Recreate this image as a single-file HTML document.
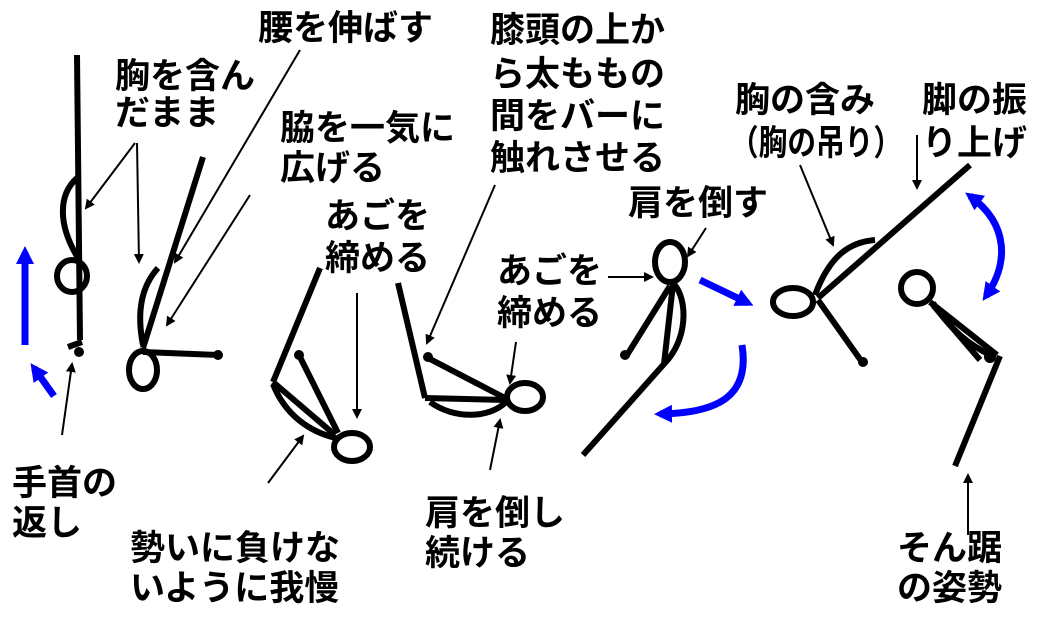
<!DOCTYPE html>
<html><head><meta charset="utf-8"><style>
html,body{margin:0;padding:0;background:#fff;}
svg{display:block;}
text{font-family:"Liberation Sans","Noto Sans CJK JP",sans-serif;font-weight:bold;font-size:35px;fill:#000;}
</style></head><body>
<svg width="1044" height="618" viewBox="0 0 1044 618" xmlns="http://www.w3.org/2000/svg">
<defs>
<marker id="ab" markerWidth="10" markerHeight="10" refX="8" refY="5" orient="auto" markerUnits="userSpaceOnUse"><path d="M0,0 L10,5 L0,10 z" fill="#000"/></marker>
<marker id="bl" markerWidth="18" markerHeight="18" refX="12" refY="9" orient="auto" markerUnits="userSpaceOnUse"><path d="M0,0 L18,9 L0,18 z" fill="#00f"/></marker>
<marker id="bls" markerWidth="18" markerHeight="18" refX="6" refY="9" orient="auto" markerUnits="userSpaceOnUse"><path d="M18,0 L0,9 L18,18 z" fill="#00f"/></marker>
</defs>
<g stroke="#000" stroke-width="6" fill="none" stroke-linecap="butt">
<!-- figure 1 -->
<line x1="77" y1="55" x2="80" y2="340"/>
<path d="M77,178 C58,195 58,225 78,258"/>
<ellipse cx="72" cy="276" rx="15" ry="16"/>
<line x1="68" y1="347" x2="82" y2="342"/>
<!-- figure 2 -->
<line x1="203" y1="157" x2="143" y2="348"/>
<path d="M158,268 C138,290 138,320 143,345"/>
<ellipse cx="143" cy="370" rx="14" ry="19"/>
<line x1="143" y1="352" x2="218" y2="355"/>
<!-- figure 3 -->
<line x1="320" y1="268" x2="273" y2="382"/>
<line x1="299" y1="355" x2="338" y2="433"/>
<line x1="273" y1="382" x2="335" y2="435"/>
<path d="M273,384 C285,415 310,432 336,438"/>
<ellipse cx="352" cy="447" rx="18" ry="14"/>
<!-- figure 4 -->
<line x1="398" y1="283" x2="425" y2="398"/>
<line x1="428" y1="358" x2="505" y2="398"/>
<line x1="425" y1="398" x2="506" y2="400"/>
<path d="M430,402 C455,420 490,418 506,402"/>
<ellipse cx="525" cy="397" rx="18" ry="14"/>
<!-- figure 5 -->
<ellipse cx="670" cy="262" rx="15" ry="20"/>
<line x1="583" y1="455" x2="664" y2="364"/>
<line x1="664" y1="364" x2="673" y2="284"/>
<line x1="627" y1="355" x2="670" y2="286"/>
<path d="M674,284 C688,300 688,340 664,364"/>
<!-- figure 6 -->
<line x1="970" y1="165" x2="818" y2="298"/>
<path d="M815,295 C830,255 850,242 875,240"/>
<ellipse cx="793" cy="302" rx="20" ry="14"/>
<line x1="818" y1="300" x2="862" y2="362"/>
<!-- figure 7 -->
<ellipse cx="917" cy="288" rx="16" ry="16"/>
<line x1="930" y1="302" x2="997" y2="355"/>
<line x1="933" y1="305" x2="980" y2="360"/>
<path d="M933,303 C950,330 970,345 990,355"/>
<line x1="1000" y1="356" x2="955" y2="466"/>
</g>
<g fill="#000">
<circle cx="79" cy="352" r="5"/>
<circle cx="218" cy="355" r="5"/>
<circle cx="299" cy="355" r="5"/>
<circle cx="428" cy="357" r="5"/>
<circle cx="625" cy="355" r="5"/>
<circle cx="863" cy="362" r="5"/>
<circle cx="990" cy="357" r="6"/>
</g>
<g stroke="#000" stroke-width="2" fill="none" marker-end="url(#ab)">
<line x1="135" y1="143" x2="86" y2="208"/>
<line x1="137" y1="143" x2="139" y2="262"/>
<line x1="62" y1="435" x2="72" y2="364"/>
<line x1="300" y1="50" x2="175" y2="262"/>
<line x1="250" y1="195" x2="167" y2="325"/>
<line x1="357" y1="293" x2="357" y2="417"/>
<line x1="268" y1="483" x2="303" y2="436"/>
<line x1="495" y1="185" x2="427" y2="343"/>
<line x1="516" y1="342" x2="510" y2="383"/>
<line x1="490" y1="470" x2="500" y2="420"/>
<line x1="608" y1="277" x2="652" y2="277"/>
<line x1="706" y1="228" x2="688" y2="256"/>
<line x1="800" y1="165" x2="833" y2="245"/>
<line x1="917" y1="135" x2="917" y2="188"/>
<line x1="968" y1="535" x2="968" y2="475"/>
</g>
<g stroke="#00f" stroke-width="7" fill="none">
<line x1="25" y1="345" x2="25" y2="252" marker-end="url(#bl)"/>
<line x1="54" y1="396" x2="34" y2="368" marker-end="url(#bl)"/>
<line x1="700" y1="280" x2="748" y2="303" marker-end="url(#bl)"/>
<path d="M742,345 C750,395 720,413 660,414" marker-end="url(#bl)"/>
<path d="M970,196 C1010,225 1008,265 986,296" marker-start="url(#bls)" marker-end="url(#bl)"/>
</g>
<text x="258" y="40">腰を伸ばす</text>
<text x="115" y="88">胸を含ん</text>
<text x="115" y="125">だまま</text>
<text x="490" y="42">膝頭の上か</text>
<text x="490" y="86">ら太ももの</text>
<text x="490" y="128">間をバーに</text>
<text x="490" y="170">触れさせる</text>
<text x="280" y="140">脇を一気に</text>
<text x="280" y="180">広げる</text>
<text x="735" y="112">胸の含み</text>
<text x="730" y="155" textLength="172" lengthAdjust="spacingAndGlyphs">（胸の吊り）</text>
<text x="922" y="112">脚の振</text>
<text x="922" y="155">り上げ</text>
<text x="628" y="215">肩を倒す</text>
<text x="325" y="228">あごを</text>
<text x="325" y="270">締める</text>
<text x="497" y="283">あごを</text>
<text x="497" y="325">締める</text>
<text x="12" y="495">手首の</text>
<text x="12" y="535">返し</text>
<text x="130" y="560">勢いに負けな</text>
<text x="130" y="600">いように我慢</text>
<text x="425" y="525">肩を倒し</text>
<text x="425" y="565">続ける</text>
<text x="897" y="560">そん踞</text>
<text x="897" y="600">の姿勢</text>
</svg>
</body></html>
